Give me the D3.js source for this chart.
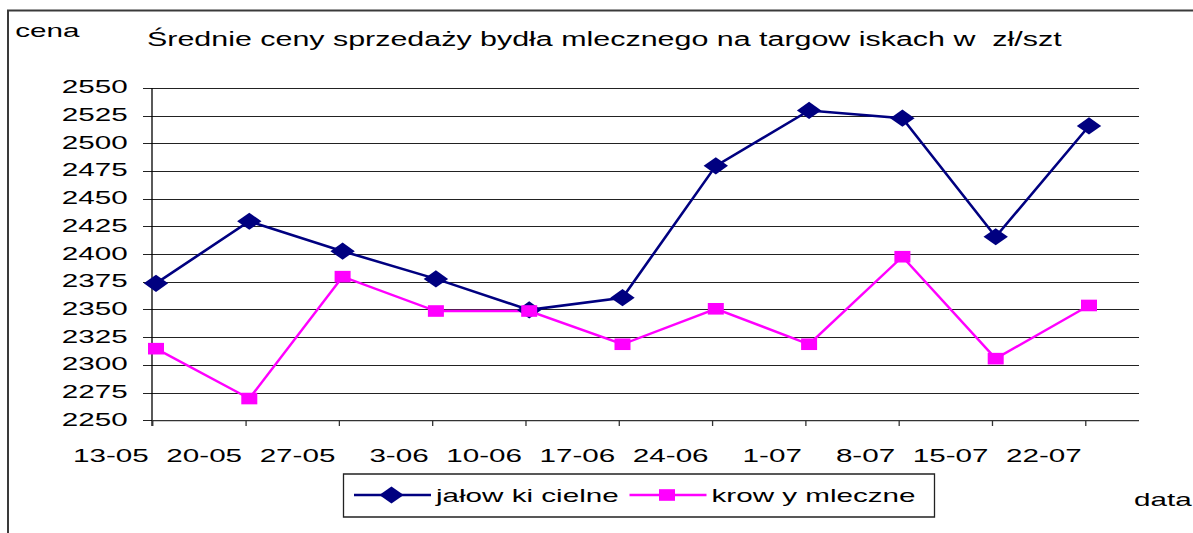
<!DOCTYPE html>
<html>
<head>
<meta charset="utf-8">
<script src="https://cdn.jsdelivr.net/npm/d3@7"></script>
<style>
body { margin: 0; background: #fff; }
svg { display: block; }
text { font-family: "Liberation Sans", Arial, sans-serif; font-size: 19px; fill: #000; white-space: pre; }
line, path, rect { vector-effect: non-scaling-stroke; }
</style>
</head>
<body>
<div id="chart"></div>
<script>
var dates = ["13-05", "20-05", "27-05", "3-06", "10-06", "17-06", "24-06", "1-07", "8-07", "15-07", "22-07"];
var jalowki = [2374, 2430, 2403, 2378, 2350, 2361, 2480, 2530, 2523, 2416, 2516];
var krowy = [2315, 2270, 2380, 2349, 2349, 2319, 2351, 2319, 2398, 2306, 2354];
var yTicks = [2250, 2275, 2300, 2325, 2350, 2375, 2400, 2425, 2450, 2475, 2500, 2525, 2550];
var seriesNames = ["jałow ki cielne", "krow y mleczne"];
var titleText = "Średnie ceny sprzedaży bydła mlecznego na targow iskach w  zł/szt";
var yLabel = "cena";
var xLabel = "data";

var width = 1193, height = 533;
// the source picture is stretched sideways, so everything is drawn
// in a narrower space and scaled up in x
var SX = 1.56;
function vx(px) { return px / SX; }

var left = 152, right = 1139, top_ = 88.3, bottom = 420.7;
var navy = "#000080", pink = "#ff00ff";

var svg = d3.select("#chart").append("svg")
    .attr("width", width)
    .attr("height", height);

// outer frame (runs off the right and bottom edge)
svg.append("rect")
    .attr("x", 8).attr("y", 10.5)
    .attr("width", 1300).attr("height", 600)
    .attr("fill", "none")
    .attr("stroke", "#3a3a3a")
    .attr("stroke-width", 2);

var g = svg.append("g").attr("transform", "scale(" + SX + ",1)");

var x = d3.scalePoint().domain(dates).range([vx(left), vx(1085)]);
var y = d3.scaleLinear().domain([2250, 2550]).range([bottom, top_]);
var shift = vx(4); // markers sit a little right of the ticks

// gridlines
g.append("g").selectAll("line")
    .data(yTicks)
    .enter().append("line")
    .attr("x1", vx(left - 9)).attr("x2", vx(right))
    .attr("y1", function (d) { return y(d); })
    .attr("y2", function (d) { return y(d); })
    .attr("stroke", "#222")
    .attr("stroke-width", 1)
    .attr("shape-rendering", "crispEdges");

// y axis
g.append("g")
    .attr("transform", "translate(" + vx(left) + ",0)")
    .call(d3.axisLeft(y).tickValues(yTicks).tickFormat(d3.format("d"))
        .tickSize(0).tickPadding(vx(24.4)))
    .call(function (a) { a.select(".domain").remove(); })
    .selectAll("text")
    .attr("dy", "0.24em");

g.append("line")
    .attr("x1", vx(left)).attr("x2", vx(left))
    .attr("y1", top_).attr("y2", bottom + 5.3)
    .attr("stroke", "#000").attr("stroke-width", 1.3);

// x axis
g.append("line")
    .attr("x1", vx(left)).attr("x2", vx(right))
    .attr("y1", bottom).attr("y2", bottom)
    .attr("stroke", "#333").attr("stroke-width", 1.3);

var xa = g.append("g")
    .attr("transform", "translate(0," + bottom + ")")
    .call(d3.axisBottom(x).tickSize(5.3).tickSizeOuter(0));
xa.select(".domain").remove();
xa.selectAll("line").attr("stroke", "#333").attr("stroke-width", 1.3);
xa.selectAll("text")
    .attr("text-anchor", "end")
    .attr("x", vx(-4))
    .attr("y", 41.3)
    .attr("dy", 0);

// series
var line = d3.line()
    .x(function (d, i) { return x(dates[i]) + shift; })
    .y(function (d) { return y(d); });

g.append("path")
    .attr("d", line(jalowki))
    .attr("fill", "none")
    .attr("stroke", navy)
    .attr("stroke-width", 2.6);

g.append("path")
    .attr("d", line(krowy))
    .attr("fill", "none")
    .attr("stroke", pink)
    .attr("stroke-width", 2.4);

var dw = vx(12.2), dh = 8.6; // diamond half sizes
var sw = vx(8), sh = 5.8;    // square half sizes
function diamond(cx, cy) {
    return "M" + cx + "," + (cy - dh) + "L" + (cx + dw) + "," + cy +
        "L" + cx + "," + (cy + dh) + "L" + (cx - dw) + "," + cy + "Z";
}

g.append("g").selectAll("path")
    .data(jalowki)
    .enter().append("path")
    .attr("d", function (d, i) { return diamond(x(dates[i]) + shift, y(d)); })
    .attr("fill", navy);

g.append("g").selectAll("rect")
    .data(krowy)
    .enter().append("rect")
    .attr("x", function (d, i) { return x(dates[i]) + shift - sw; })
    .attr("y", function (d) { return y(d) - sh; })
    .attr("width", 2 * sw)
    .attr("height", 2 * sh)
    .attr("fill", pink);

// titles
g.append("text")
    .attr("x", vx(147)).attr("y", 46.5)
    .style("font-size", "19.5px")
    .text(titleText);

g.append("text")
    .attr("x", vx(15.3)).attr("y", 36.7)
    .text(yLabel);

g.append("text")
    .attr("x", vx(1134)).attr("y", 506)
    .text(xLabel);

// legend
var lg = g.append("g");
lg.append("rect")
    .attr("x", vx(343.5)).attr("y", 474)
    .attr("width", vx(591)).attr("height", 43)
    .attr("fill", "#fff")
    .attr("stroke", "#222")
    .attr("stroke-width", 1.3);

var legendItems = [
    {name: seriesNames[0], color: navy, x0: 354, mark: "diamond"},
    {name: seriesNames[1], color: pink, x0: 629.5, mark: "square"}
];
legendItems.forEach(function (it) {
    var ly = 495;
    lg.append("line")
        .attr("x1", vx(it.x0)).attr("x2", vx(it.x0 + 77))
        .attr("y1", ly).attr("y2", ly)
        .attr("stroke", it.color)
        .attr("stroke-width", 2.5);
    var cx = vx(it.x0 + 37.5);
    if (it.mark == "diamond") {
        lg.append("path").attr("d", diamond(cx, ly)).attr("fill", it.color);
    } else {
        lg.append("rect")
            .attr("x", cx - sw).attr("y", ly - sh)
            .attr("width", 2 * sw).attr("height", 2 * sh)
            .attr("fill", it.color);
    }
    lg.append("text")
        .attr("x", vx(it.x0 + 82)).attr("y", 501.6)
        .text(it.name);
});
</script>
</body>
</html>
